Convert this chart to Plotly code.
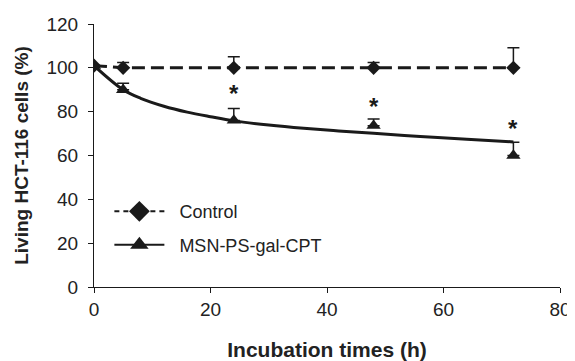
import plotly.graph_objects as go

# Data
times = [0, 5, 24, 48, 72]
control = [101, 100, 100, 100, 100]
control_err = [0, 2.4, 5, 2.4, 9.2]
treated = [101, 90, 76, 73.6, 60]
treated_err = [0, 3, 5.5, 3, 6]

# fitted trend curve of the treated series
fit_x = [0, 5, 8, 12, 16, 20, 24, 30, 36, 42, 48, 56, 64, 72]
fit_y = [101, 90, 86.1, 82.5, 79.8, 77.7, 75.8, 73.9, 72.4, 71.2, 70.1, 68.7, 67.4, 66.2]

# significance marks
star_x = [24, 48, 72]
star_y = [88.2, 82.3, 72.3]

x_ticks = [0, 20, 40, 60, 80]
y_ticks = [0, 20, 40, 60, 80, 100, 120]

font_family = "Liberation Sans, Arial, sans-serif"
black = "#1a1a1a"
text_col = "#222222"

fig = go.Figure()

fig.add_trace(go.Scatter(
    x=times, y=control, mode="lines+markers", name="Control",
    line=dict(color=black, width=3, dash="13px,6px"),
    marker=dict(symbol="diamond", size=11, color=black),
    error_y=dict(type="data", array=control_err, arrayminus=[0] * len(times),
                 symmetric=False, color=black, thickness=1.5, width=6),
    showlegend=False,
))

fig.add_trace(go.Scatter(
    x=fit_x, y=fit_y, mode="lines", line=dict(color=black, width=3, shape="spline", smoothing=1),
    showlegend=False, hoverinfo="skip",
))

fig.add_trace(go.Scatter(
    x=times, y=treated, mode="markers", name="MSN-PS-gal-CPT",
    marker=dict(symbol="triangle-up", size=12.5, color=black),
    error_y=dict(type="data", array=treated_err, arrayminus=[0] * len(times),
                 symmetric=False, color=black, thickness=1.5, width=6),
    showlegend=False,
))

# legend entries (legend samples only)
fig.add_trace(go.Scatter(
    x=[None], y=[None], mode="lines+markers", name="\u00a0\u00a0Control",
    line=dict(color=black, width=2, dash="5px,4px"),
    marker=dict(symbol="diamond", size=16, color=black),
    legendgroup="a",
))
fig.add_trace(go.Scatter(
    x=[None], y=[None], mode="lines+markers", name="\u00a0\u00a0MSN-PS-gal-CPT",
    line=dict(color=black, width=2),
    marker=dict(symbol="triangle-up", size=18, color=black),
    legendgroup="b",
))

for sx, sy in zip(star_x, star_y):
    fig.add_annotation(x=sx, y=sy, text="<b>*</b>", showarrow=False,
                       font=dict(size=24, color=black, family=font_family))

axis_common = dict(
    showgrid=False, zeroline=False, showline=True, linecolor=black, linewidth=1,
    ticks="outside", ticklen=5, tickcolor=black, tickwidth=1, automargin=False,
    tickfont=dict(size=19, color=text_col, family=font_family),
)

fig.update_xaxes(range=[0, 80], tickvals=x_ticks, **axis_common,
                 title=dict(text="<b>Incubation times (h)</b>", standoff=24,
                            font=dict(size=21, color=text_col, family=font_family)))
fig.update_yaxes(range=[0, 120], tickvals=y_ticks, ticklabelstandoff=6, **axis_common,
                 title=dict(text="<b>Living HCT-116 cells (%)</b>", standoff=12,
                            font=dict(size=19, color=text_col, family=font_family)))

# page body adds an 8px offset, so the figure is 8px smaller and margins are shifted
fig.update_layout(
    width=567, height=353,
    margin=dict(l=86, r=15, t=16, b=74),
    paper_bgcolor="white", plot_bgcolor="white",
    showlegend=True,
    legend=dict(x=0.033, y=0.357, xanchor="left", yanchor="top",
                font=dict(size=18, color=text_col, family=font_family),
                bgcolor="rgba(0,0,0,0)", tracegroupgap=7, traceorder="grouped",
                itemwidth=50),
)

fig.write_html("out.html")
